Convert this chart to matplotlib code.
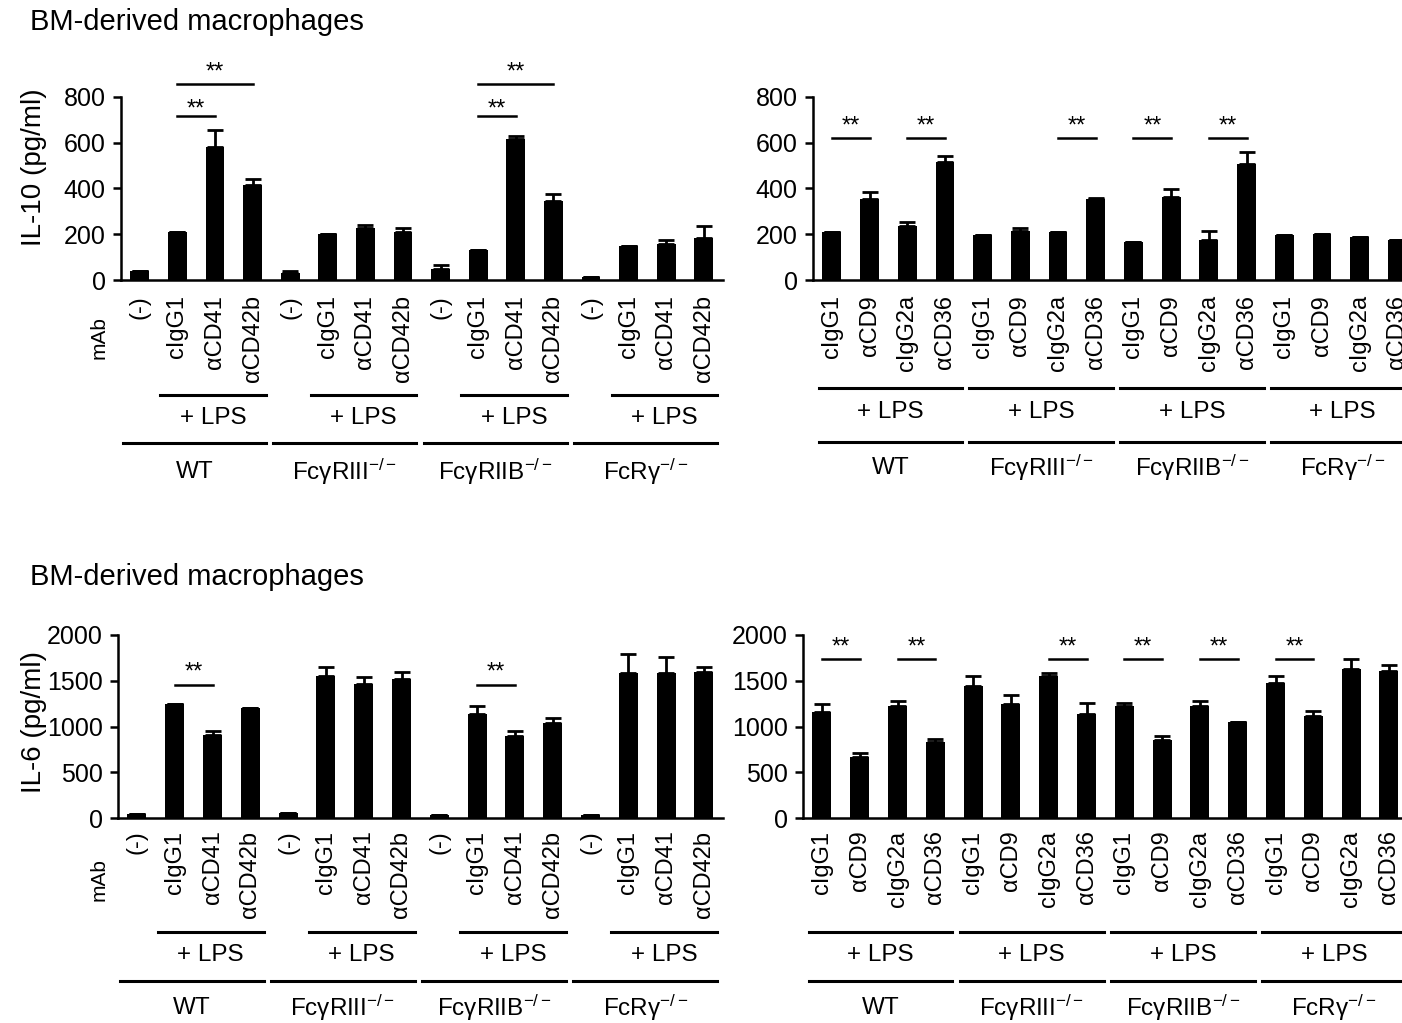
"""
IL-10 / IL-6 release by BM-derived macrophages, four bar panels.
Layout is placed in figure pixels so it lines up with the original figure.
"""

import matplotlib
matplotlib.use("Agg")
import matplotlib.pyplot as plt
import matplotlib.transforms as mtransforms

plt.rcParams["font.family"] = ["Liberation Sans", "DejaVu Sans"]
plt.rcParams["mathtext.fontset"] = "custom"
plt.rcParams["mathtext.rm"] = "Liberation Sans"
plt.rcParams["mathtext.it"] = "Liberation Sans:italic"
plt.rcParams["mathtext.bf"] = "Liberation Sans:bold"

# ---------- data ----------

genotypes = ["WT", "FcγRIII$^{-/-}$", "FcγRIIB$^{-/-}$", "FcRγ$^{-/-}$"]
mab_left = ["(-)", "cIgG1", "αCD41", "αCD42b"]
mab_right = ["cIgG1", "αCD9", "cIgG2a", "αCD36"]

il10_left = [40, 210, 580, 415, 30, 200, 228, 212, 50, 130, 615, 345, 15, 150, 158, 182]
il10_left_err = [0, 0, 75, 25, 10, 0, 12, 15, 17, 0, 15, 32, 0, 0, 18, 55]

il10_right = [212, 352, 238, 515, 195, 215, 212, 355, 165, 362, 175, 508, 195, 203, 188, 175]
il10_right_err = [0, 32, 16, 28, 0, 12, 0, 4, 0, 35, 38, 52, 0, 0, 0, 0]

il6_left = [40, 1250, 905, 1197, 55, 1550, 1462, 1518, 30, 1140, 898, 1040, 30, 1588, 1580, 1598]
il6_left_err = [0, 0, 45, 0, 0, 95, 80, 75, 0, 85, 50, 48, 0, 200, 185, 55]

il6_right = [1161, 668, 1223, 832, 1442, 1245, 1555, 1135, 1223, 850, 1223, 1051, 1471, 1117, 1624, 1606]
il6_right_err = [90, 45, 58, 33, 113, 98, 33, 124, 30, 44, 58, 0, 80, 55, 110, 62]

# significance: (bar a, bar b, line height, star height)
sig_il10_left = [(1, 2, 718, 745), (1, 3, 858, 905), (9, 10, 718, 745), (9, 11, 858, 905)]
sig_il10_right = [(0, 1, 622, 672), (2, 3, 622, 672), (6, 7, 622, 672),
                  (8, 9, 622, 672), (10, 11, 622, 672)]
sig_il6_left = [(1, 2, 1453, 1585), (9, 10, 1453, 1585)]
sig_il6_right = [(0, 1, 1734, 1860), (2, 3, 1734, 1860), (6, 7, 1734, 1860),
                 (8, 9, 1734, 1860), (10, 11, 1734, 1860), (12, 13, 1734, 1860)]

W, H = 1402, 1023
fig = plt.figure(figsize=(W / 100, H / 100), dpi=100)

# y in image pixels (top = 0) -> display coords
img_y = mtransforms.Affine2D().scale(1, -1).translate(0, H)


def add_axes_px(left, top, width, height):
    return fig.add_axes([left / W, 1 - (top + height) / H, width / W, height / H])


def draw_panel(left, spacing, top, zero, values, errors, labels, ymax, yticks,
               sigs, label_pad, lps_y, lps_span, grp_y, grp_span, lps_txt_y, grp_txt_y):
    n = len(values)
    ax = add_axes_px(left, top, n * spacing, zero - top)
    x = list(range(n))
    ax.bar(x, values, width=0.5, color="black", zorder=2)
    ax.errorbar(x, values, yerr=[[0] * n, errors], fmt="none", ecolor="black",
                elinewidth=2, capsize=5.5, capthick=2, zorder=1)
    ax.set_xlim(-0.5, n - 0.5)
    ax.set_ylim(0, ymax)
    ax.set_yticks(yticks)
    ax.set_xticks(x)
    ax.set_xticklabels(labels, rotation=90, va="top", ha="center", fontsize=17)
    ax.tick_params(axis="x", length=0, pad=label_pad)
    ax.tick_params(axis="y", length=6, width=1.8, labelsize=18, pad=5)
    for s in ["top", "right"]:
        ax.spines[s].set_visible(False)
    for s in ["left", "bottom"]:
        ax.spines[s].set_linewidth(1.8)

    # significance bars
    for a, b, yl, ys in sigs:
        ax.plot([a, b], [yl, yl], color="black", lw=1.8, clip_on=False)
        ax.text((a + b) / 2, ys, "**", ha="center", va="center", fontsize=17)

    tr = mtransforms.blended_transform_factory(ax.transData, img_y)
    for g, name in enumerate(genotypes):
        base = 4 * g
        ax.plot([base + lps_span[0], base + lps_span[1]], [lps_y, lps_y],
                color="black", lw=2.2, transform=tr, clip_on=False)
        ax.text(base + (lps_span[0] + lps_span[1]) / 2, lps_txt_y, "+ LPS",
                ha="center", va="center", fontsize=17.5, transform=tr)
        ax.plot([base + grp_span[0], base + grp_span[1]], [grp_y, grp_y],
                color="black", lw=2.2, transform=tr, clip_on=False)
        ax.text(base + (grp_span[0] + grp_span[1]) / 2, grp_txt_y, name,
                ha="center", va="center", fontsize=17.5, transform=tr)
    return ax


# IL-10
draw_panel(121, 37.6, 97, 280, il10_left, il10_left_err, mab_left * 4, 800,
           [0, 200, 400, 600, 800], sig_il10_left, 11,
           395, (0.55, 3.35), 443, (-0.45, 3.35), 418, 472)
draw_panel(813, 37.7, 97, 280, il10_right, il10_right_err, mab_right * 4, 800,
           [0, 200, 400, 600, 800], sig_il10_right, 11,
           388, (-0.35, 3.45), 442, (-0.35, 3.45), 412, 468)

# IL-6
draw_panel(118, 37.8, 635, 818, il6_left, il6_left_err, mab_left * 4, 2000,
           [0, 500, 1000, 1500, 2000], sig_il6_left, 9,
           932, (0.55, 3.35), 981, (-0.45, 3.35), 955, 1008)
draw_panel(803, 37.8, 635, 818, il6_right, il6_right_err, mab_right * 4, 2000,
           [0, 500, 1000, 1500, 2000], sig_il6_right, 9,
           932, (-0.35, 3.45), 981, (-0.35, 3.45), 955, 1008)

# panel titles, y labels, mAb labels
fig.text(30 / W, 1 - 22 / H, "BM-derived macrophages", fontsize=21, va="center", ha="left")
fig.text(30 / W, 1 - 577 / H, "BM-derived macrophages", fontsize=21, va="center", ha="left")
fig.text(34 / W, 1 - 167 / H, "IL-10 (pg/ml)", rotation=90, fontsize=20, va="center", ha="center")
fig.text(34 / W, 1 - 722 / H, "IL-6 (pg/ml)", rotation=90, fontsize=20, va="center", ha="center")
fig.text(99 / W, 1 - 338 / H, "mAb", rotation=90, fontsize=15, va="center", ha="center")
fig.text(99 / W, 1 - 880 / H, "mAb", rotation=90, fontsize=15, va="center", ha="center")

fig.savefig("out.png", dpi=100)
